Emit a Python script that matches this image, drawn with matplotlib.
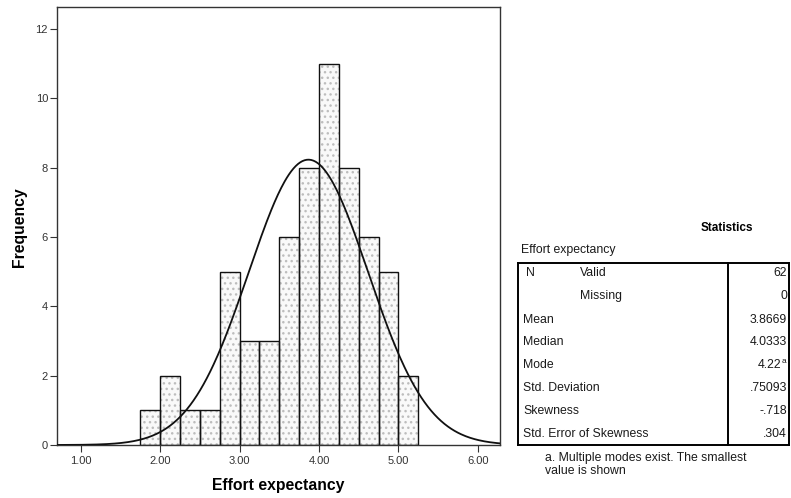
import numpy as np
import matplotlib
matplotlib.use("Agg")
import matplotlib.pyplot as plt
from matplotlib.lines import Line2D

plt.rcParams['font.family'] = ['Liberation Sans', 'DejaVu Sans']

# Histogram data (bin edges and counts)
bin_edges = [1.75, 2.00, 2.25, 2.50, 2.75, 3.00, 3.25, 3.50, 3.75, 4.00, 4.25, 4.50, 4.75, 5.00, 5.25]
counts = [1, 2, 1, 1, 5, 3, 3, 6, 8, 11, 8, 6, 5, 2]

# Statistics (table)
n_valid = 62
mean_val = 3.8669
sd_val = 0.75093
stat_values = ["62", "0", "3.8669", "4.0333", "4.22", ".75093", "-.718", ".304"]

x_ticks = [1, 2, 3, 4, 5, 6]
x_ticklabels = ["1.00", "2.00", "3.00", "4.00", "5.00", "6.00"]
y_ticks = [0, 2, 4, 6, 8, 10, 12]

W, H = 791, 498
fig = plt.figure(figsize=(7.91, 4.98), dpi=100)
ax = fig.add_axes([57/W, 1-445/H, (500-57)/W, (445-7)/H])

lefts = np.array(bin_edges[:-1])
widths = np.diff(bin_edges)
# dotted fill
ax.bar(lefts, counts, width=widths, align='edge', color='#f9f9f9',
       edgecolor='#bdbdbd', hatch='...', linewidth=0, zorder=1)
# outlines
ax.bar(lefts, counts, width=widths, align='edge', fill=False,
       edgecolor='#111111', linewidth=1.0, zorder=2)

# fitted normal curve from table statistics
bw = widths[0]
xs = np.linspace(0.7, 6.28, 400)
ys = n_valid * bw / (sd_val * np.sqrt(2 * np.pi)) * np.exp(-0.5 * ((xs - mean_val) / sd_val) ** 2)
ax.plot(xs, ys, color='#111111', linewidth=1.3, zorder=3)

ax.set_xlim(0.70, 6.28)
ax.set_ylim(0, 12.64)
ax.set_xticks(x_ticks)
ax.set_xticklabels(x_ticklabels)
ax.set_yticks(y_ticks)
ax.tick_params(axis='both', direction='out', length=5, width=0.8, colors='#333333',
               labelsize=8, pad=1.5)
ax.tick_params(axis='x', pad=3)
for s in ax.spines.values():
    s.set_color('#333333')
    s.set_linewidth(1.0)
ax.set_xlabel("Effort expectancy", fontsize=11.3, fontweight='bold')
ax.set_ylabel("Frequency", fontsize=11.3, fontweight='bold')
ax.xaxis.set_label_coords((278-57)/443, (445-485)/438)
ax.yaxis.set_label_coords((19-57)/443, (445-227)/438)
ax.xaxis.label.set_va('center')
ax.yaxis.label.set_va('center')

def fx(px):
    return px / W
def fy(py):
    return 1 - py / H

fs = 8.8
tc = '#1a1a1a'
fig.text(fx(727), fy(228), "Statistics", fontsize=8.5, fontweight='bold', ha='center', va='center')
fig.text(fx(521), fy(250), "Effort expectancy", fontsize=fs, ha='left', va='center', color=tc)

tab_left, tab_right, tab_top, tab_bot, tab_div = 518, 789, 263, 445, 728
for (x0, y0, x1, y1) in [(tab_left, tab_top, tab_right, tab_top),
                         (tab_left, tab_bot, tab_right, tab_bot),
                         (tab_left, tab_top, tab_left, tab_bot),
                         (tab_right, tab_top, tab_right, tab_bot),
                         (tab_div, tab_top, tab_div, tab_bot)]:
    fig.add_artist(Line2D([fx(x0), fx(x1)], [fy(y0), fy(y1)], color='black', linewidth=1.4))

row_y = [273, 296, 320, 342, 365, 388, 411, 434]
row_labels = [("N", 526), ("Missing", 580), ("Mean", 523), ("Median", 523), ("Mode", 523),
              ("Std. Deviation", 523), ("Skewness", 523), ("Std. Error of Skewness", 523)]
fig.text(fx(580), fy(row_y[0]), "Valid", fontsize=fs, ha='left', va='center', color=tc)
for (lab, lx), yy in zip(row_labels, row_y):
    fig.text(fx(lx), fy(yy), lab, fontsize=fs, ha='left', va='center', color=tc)
for i, (val, yy) in enumerate(zip(stat_values, row_y)):
    if i == 4:
        fig.text(fx(781), fy(yy), val, fontsize=fs, ha='right', va='center', color=tc)
        fig.text(fx(781.5), fy(yy - 4), "a", fontsize=6, ha='left', va='center', color=tc)
    else:
        fig.text(fx(787), fy(yy), val, fontsize=fs, ha='right', va='center', color=tc)

fig.text(fx(545), fy(458), "a. Multiple modes exist. The smallest", fontsize=fs, ha='left', va='center', color=tc)
fig.text(fx(545), fy(471), "value is shown", fontsize=fs, ha='left', va='center', color=tc)

fig.savefig("out.png", dpi=100)
